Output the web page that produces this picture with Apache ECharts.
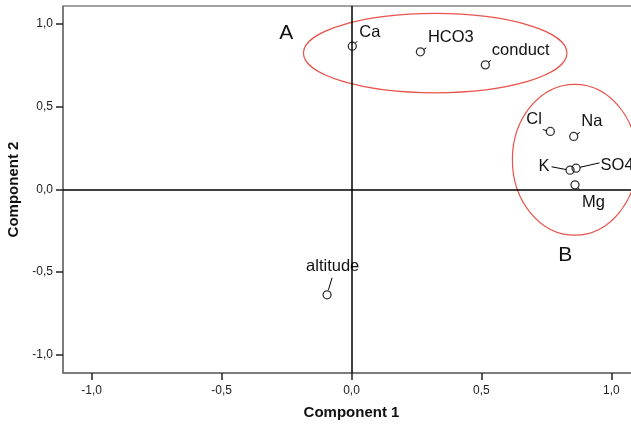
<!DOCTYPE html>
<html>
<head>
<meta charset="utf-8">
<script src="https://cdn.jsdelivr.net/npm/echarts@6/dist/echarts.min.js"></script>
<style>
  html, body { margin: 0; padding: 0; background: #fff; }
  #chart { width: 631px; height: 426px; }
</style>
</head>
<body>
<div id="chart"></div>
<script>
// loadings
var varNames = ['Ca', 'HCO3', 'conduct', 'Cl', 'Na', 'K', 'SO4', 'Mg', 'altitude'];
var comp1 = [0.003, 0.265, 0.515, 0.765, 0.855, 0.841, 0.864, 0.860, -0.094];
var comp2 = [0.867, 0.833, 0.754, 0.351, 0.321, 0.117, 0.129, 0.028, -0.637];

// grouping ellipses (centre and radii in component units)
var groupNames = ['A', 'B'];
var groupCx = [0.322, 0.859];
var groupCy = [0.825, 0.180];
var groupRx = [0.507, 0.240];
var groupRy = [0.240, 0.456];

var tickValues = [-1, -0.5, 0, 0.5, 1];

// label placement in pixels, relative to each point
var labelPos = {
    'Ca':       { dx: 7, dy: -14, align: 'left', line: [2.8, -2.8, 5, -5] },
    'HCO3':     { dx: 7.5, dy: -14.5, align: 'left', line: [3, -2, 6, -4] },
    'conduct':  { dx: 6.5, dy: -14, align: 'left', line: [3, -2.5, 5.5, -4.5] },
    'Cl':       { dx: -8.5, dy: -12.5, align: 'right', line: [-7.5, -2, -3.5, -0.7] },
    'Na':       { dx: 7.5, dy: -14.5, align: 'left', line: [3, -2, 6, -4] },
    'K':        { dx: -20.5, dy: -3.5, align: 'right', line: [-18.5, -3.4, -4, -0.6] },
    'SO4':      { dx: 24.5, dy: -3, align: 'left', line: [4, -0.9, 23.5, -5.3] },
    'Mg':       { dx: 7, dy: 17.5, align: 'left', line: [3, 3, 4.5, 4.5] },
    'altitude': { dx: 5.6, dy: -28, align: 'center', line: [1.4, -5, 5, -17] }
};
var groupLetterPos = {
    'A': { dx: -149, dy: -19.5 },
    'B': { dx: -9.5, dy: 95 }
};

var fontFam = 'Liberation Sans, Arial, sans-serif';
var fmt = function (v) { return v.toFixed(1).replace('.', ','); };

var chart = echarts.init(document.getElementById('chart'));

var points = comp1.map(function (x, i) { return [x, comp2[i]]; });
var ellipses = groupNames.map(function (g, i) {
    return [groupCx[i], groupCy[i], groupRx[i], groupRy[i]];
});

var axisCommon = {
    type: 'value',
    min: -1.11,
    max: 1.11,
    nameLocation: 'middle',
    nameTextStyle: { fontFamily: fontFam, fontSize: 15, fontWeight: 'bold', color: '#111' },
    axisLine: { show: true, onZero: false, lineStyle: { color: '#707070', width: 1.5 } },
    axisTick: { show: true, customValues: tickValues, length: 7, lineStyle: { color: '#222', width: 1.5 } },
    axisLabel: { customValues: tickValues, formatter: fmt, fontFamily: fontFam, fontSize: 12, color: '#222' },
    splitLine: { show: false }
};

var option = {
    animation: false,
    textStyle: { fontFamily: fontFam },
    grid: {
        left: 63, right: -9, top: 6, bottom: 53,
        show: true, borderColor: '#444', borderWidth: 1,
        outerBoundsMode: 'none'
    },
    xAxis: Object.assign({}, axisCommon, {
        name: 'Component 1',
        nameGap: 32,
        axisLabel: Object.assign({}, axisCommon.axisLabel, { margin: 12 })
    }),
    yAxis: Object.assign({}, axisCommon, {
        name: 'Component 2',
        nameGap: 40,
        axisLabel: Object.assign({}, axisCommon.axisLabel, { margin: 10 })
    }),
    series: [
        {
            type: 'custom',
            silent: true,
            data: ellipses,
            renderItem: function (params, api) {
                var c = api.coord([api.value(0), api.value(1)]);
                var sz = api.size([api.value(2), api.value(3)]);
                var letter = groupNames[params.dataIndex];
                var lp = groupLetterPos[letter];
                return {
                    type: 'group',
                    children: [
                        {
                            type: 'ellipse',
                            shape: { cx: c[0], cy: c[1], rx: sz[0], ry: sz[1] },
                            style: { fill: 'none', stroke: '#e8534c', lineWidth: 1.2 }
                        },
                        {
                            type: 'text',
                            x: c[0] + lp.dx,
                            y: c[1] + lp.dy,
                            style: {
                                text: letter, fill: '#111', align: 'center', verticalAlign: 'middle',
                                font: '21px ' + fontFam
                            }
                        }
                    ]
                };
            }
        },
        {
            type: 'scatter',
            data: points,
            symbol: 'circle',
            symbolSize: 8,
            itemStyle: { color: 'rgba(0,0,0,0)', borderColor: '#000', borderWidth: 1.3 },
            markLine: {
                silent: true,
                symbol: ['none', 'none'],
                label: { show: false },
                lineStyle: { color: '#000', width: 1.5, type: 'solid' },
                data: [{ xAxis: 0 }, { yAxis: 0 }]
            }
        },
        {
            type: 'custom',
            silent: true,
            data: points,
            renderItem: function (params, api) {
                var p = api.coord([api.value(0), api.value(1)]);
                var name = varNames[params.dataIndex];
                var s = labelPos[name];
                return {
                    type: 'group',
                    children: [
                        {
                            type: 'line',
                            shape: { x1: p[0] + s.line[0], y1: p[1] + s.line[1], x2: p[0] + s.line[2], y2: p[1] + s.line[3] },
                            style: { stroke: '#000', lineWidth: 1 }
                        },
                        {
                            type: 'text',
                            x: p[0] + s.dx,
                            y: p[1] + s.dy,
                            style: {
                                text: name, fill: '#111', align: s.align, verticalAlign: 'middle',
                                font: '16.5px ' + fontFam
                            }
                        }
                    ]
                };
            }
        }
    ]
};

chart.setOption(option);
</script>
</body>
</html>
